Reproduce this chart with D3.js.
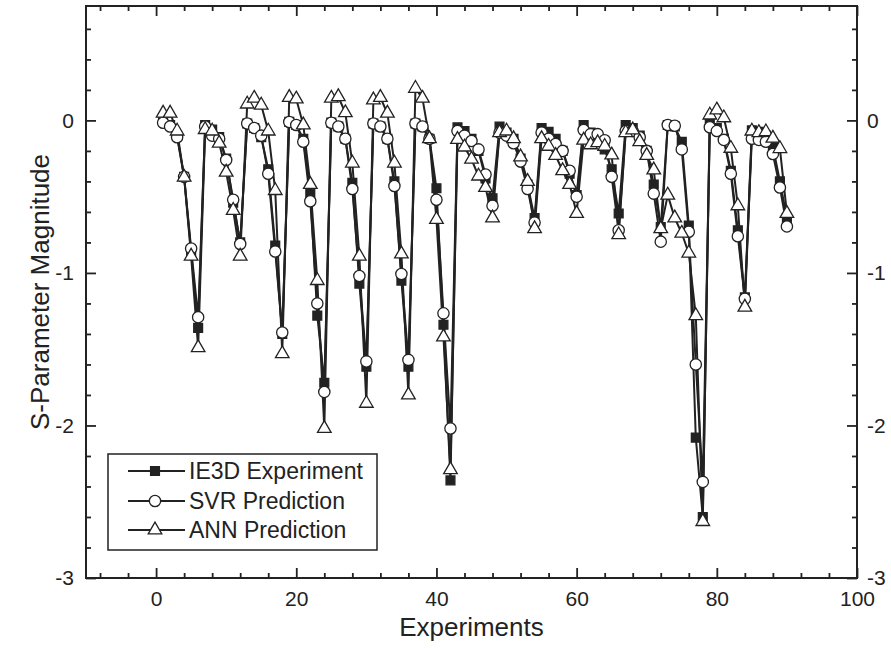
<!DOCTYPE html>
<html><head><meta charset="utf-8">
<script src="https://cdn.jsdelivr.net/npm/d3@7/dist/d3.min.js"></script>
<style>body{margin:0;background:#fff}svg{display:block}text{font-family:"Liberation Sans",Arial,sans-serif;fill:#222}</style>
</head><body>
<script>
const experiments = d3.range(1, 91);
const ie3d = [0.0,-0.03,-0.10,-0.37,-0.86,-1.36, -0.03,-0.06,-0.11,-0.25,-0.54,-0.80,
  -0.02,-0.05,-0.11,-0.32,-0.82,-1.40, -0.01,-0.03,-0.12,-0.48,-1.28,-1.72,
  -0.015,-0.04,-0.12,-0.41,-1.07,-1.615, -0.02,-0.04,-0.12,-0.40,-1.05,-1.615,
  -0.02,-0.04,-0.12,-0.445,-1.34,-2.36, -0.045,-0.07,-0.12,-0.20,-0.38,-0.51,
  -0.04,-0.08,-0.12,-0.25,-0.42,-0.64, -0.05,-0.075,-0.12,-0.20,-0.35,-0.49,
  -0.03,-0.08,-0.10,-0.19,-0.32,-0.61, -0.03,-0.05,-0.10,-0.20,-0.42,-0.70,
  -0.03,-0.04,-0.14,-0.69,-2.08,-2.60, -0.02,-0.05,-0.12,-0.33,-0.72,-1.16,
  -0.065,-0.075,-0.10,-0.17,-0.40,-0.64];
const svr = [-0.015,-0.04,-0.11,-0.37,-0.84,-1.29, -0.04,-0.10,-0.12,-0.26,-0.52,-0.81,
  -0.02,-0.05,-0.10,-0.35,-0.86,-1.39, -0.01,-0.03,-0.14,-0.53,-1.20,-1.78,
  -0.015,-0.04,-0.12,-0.45,-1.02,-1.58, -0.02,-0.04,-0.12,-0.43,-1.007,-1.57,
  -0.02,-0.04,-0.12,-0.52,-1.265,-2.02, -0.07,-0.10,-0.135,-0.19,-0.355,-0.56,
  -0.08,-0.10,-0.15,-0.27,-0.45,-0.67, -0.08,-0.12,-0.155,-0.20,-0.33,-0.50,
  -0.063,-0.09,-0.09,-0.13,-0.37,-0.72, -0.07,-0.07,-0.11,-0.20,-0.48,-0.795,
  -0.03,-0.035,-0.19,-0.73,-1.60,-2.37, -0.045,-0.07,-0.128,-0.35,-0.76,-1.17,
  -0.12,-0.128,-0.14,-0.22,-0.44,-0.695];
const ann = [0.047,0.047,-0.07,-0.373,-0.89,-1.49, -0.06,-0.07,-0.15,-0.34,-0.59,-0.89,
  0.107,0.145,0.10,-0.07,-0.46,-1.53, 0.15,0.14,-0.03,-0.42,-1.05,-2.02,
  0.145,0.155,0.05,-0.28,-0.89,-1.855, 0.134,0.15,0.047,-0.28,-0.876,-1.80,
  0.21,0.145,-0.12,-0.65,-1.42,-2.29, -0.125,-0.175,-0.255,-0.365,-0.44,-0.64,
  -0.08,-0.07,-0.12,-0.24,-0.40,-0.71, -0.12,-0.17,-0.23,-0.33,-0.42,-0.61,
  -0.13,-0.16,-0.146,-0.17,-0.227,-0.75, -0.08,-0.063,-0.14,-0.23,-0.325,-0.71,
  -0.49,-0.64,-0.74,-0.87,-1.28,-2.63, 0.035,0.068,0.017,-0.183,-0.56,-1.225,
  -0.07,-0.08,-0.075,-0.117,-0.185,-0.61];
const seriesNames = ["IE3D Experiment","SVR Prediction","ANN Prediction"];
const xMajor = [0,20,40,60,80,100];
const yMajor = [0,-1,-2,-3];

const W=891,H=664, L=86,R=857,T=6,B=578;
const svg=d3.select("body").append("svg").attr("width",W).attr("height",H);
const x=d3.scaleLinear().domain([-10,100]).range([L,R]);
const y=d3.scaleLinear().domain([-3,0.75]).range([B,T]);
const ink="#222";
const fmt=d=>String(d);

const xMinor=d3.range(-8,100,4).filter(v=>!xMajor.includes(v));
const yMinor=d3.range(-2.8,0.75,0.2).map(v=>+v.toFixed(1)).filter(v=>!yMajor.includes(v));
function axisG(axis, tr){ const g=svg.append("g").attr("transform",tr).call(axis); g.select(".domain").remove(); g.selectAll("line").attr("stroke",ink).attr("stroke-width",1.8); g.selectAll("text").attr("font-size",21).attr("fill",ink).style("font-family",'"Liberation Sans",Arial,sans-serif'); return g;}
axisG(d3.axisBottom(x).tickValues(xMajor).tickSize(-10).tickPadding(13).tickFormat(fmt),`translate(0,${B})`);
axisG(d3.axisBottom(x).tickValues(xMinor).tickSize(-5).tickFormat(""),`translate(0,${B})`);
axisG(d3.axisTop(x).tickValues(xMajor).tickSize(-10).tickFormat(""),`translate(0,${T})`);
axisG(d3.axisTop(x).tickValues(xMinor).tickSize(-5).tickFormat(""),`translate(0,${T})`);
axisG(d3.axisLeft(y).tickValues(yMajor).tickSize(-10).tickPadding(12).tickFormat(fmt),`translate(${L},0)`);
axisG(d3.axisLeft(y).tickValues(yMinor).tickSize(-5).tickFormat(""),`translate(${L},0)`);
axisG(d3.axisRight(y).tickValues(yMajor).tickSize(-10).tickPadding(10).tickFormat(fmt),`translate(${R},0)`);
axisG(d3.axisRight(y).tickValues(yMinor).tickSize(-5).tickFormat(""),`translate(${R},0)`);

svg.append("rect").attr("x",L).attr("y",T).attr("width",R-L).attr("height",B-T)
  .attr("fill","none").attr("stroke",ink).attr("stroke-width",2);

svg.append("text").attr("x",(L+R)/2).attr("y",636).attr("text-anchor","middle").attr("font-size",26).text("Experiments");
svg.append("text").attr("transform",`translate(49,${(T+B)/2}) rotate(-90)`).attr("text-anchor","middle").attr("font-size",26).text("S-Parameter Magnitude");

const line=d3.line().x((d,i)=>x(experiments[i])).y(d=>y(d));
const sq=d3.symbol().type(d3.symbolSquare).size(78);
const ci=d3.symbol().type(d3.symbolCircle).size(100);
const tr=d3.symbol().type(d3.symbolTriangle).size(80);
const defs=[{v:ie3d,sym:sq,fill:ink},{v:svr,sym:ci,fill:"#fff"},{v:ann,sym:tr,fill:"#fff"}];
defs.forEach(s=>{
  svg.append("path").datum(s.v).attr("d",line).attr("fill","none").attr("stroke",ink).attr("stroke-width",2);
});
defs.forEach(s=>{
  svg.append("g").selectAll("path").data(s.v).join("path")
    .attr("d",s.sym).attr("transform",(d,i)=>`translate(${x(experiments[i])},${y(d)})`)
    .attr("fill",s.fill).attr("stroke",ink).attr("stroke-width",1.3);
});

const lg=svg.append("g");
lg.append("rect").attr("x",108).attr("y",454).attr("width",269).attr("height",96).attr("fill","#fff").attr("stroke",ink).attr("stroke-width",1.5);
[471,501,530].forEach((yy,i)=>{
  lg.append("line").attr("x1",128).attr("x2",185).attr("y1",yy).attr("y2",yy).attr("stroke",ink).attr("stroke-width",2);
  lg.append("path").attr("d",defs[i].sym).attr("transform",`translate(155,${yy})`).attr("fill",defs[i].fill).attr("stroke",ink).attr("stroke-width",1.3);
  lg.append("text").attr("x",189).attr("y",yy+8).attr("font-size",23).text(seriesNames[i]);
});
</script>
</body></html>
